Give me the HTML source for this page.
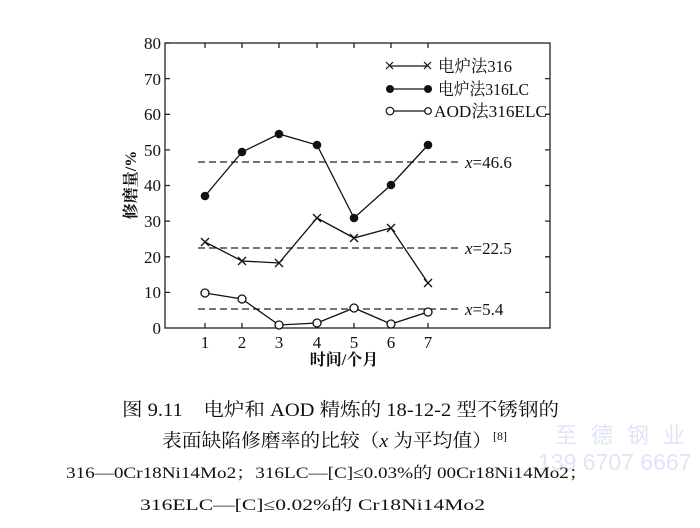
<!DOCTYPE html>
<html><head><meta charset="utf-8"><style>
body{margin:0;background:#fff;}
svg{display:block;}
.t{font-family:"Liberation Serif","Noto Serif CJK SC",serif;fill:#111;}
.c{font-family:"Liberation Serif","Noto Serif CJK SC",serif;fill:#111;}
</style></head><body>
<svg width="700" height="528" viewBox="0 0 700 528" xmlns="http://www.w3.org/2000/svg">
<rect width="700" height="528" fill="#fff"/>
<g stroke="#222" stroke-width="1.3" fill="none">
<rect x="165" y="43" width="385" height="285"/>
<path d="M165 43h5M165 78.6h5M165 114.3h5M165 149.9h5M165 185.5h5M165 221.1h5M165 256.8h5M165 292.4h5
M550 78.6h-5M550 114.3h-5M550 149.9h-5M550 185.5h-5M550 221.1h-5M550 256.8h-5M550 292.4h-5
M205 43v5M242 43v5M279 43v5M317 43v5M354 43v5M391 43v5M428 43v5
M205 328v-5M242 328v-5M279 328v-5M317 328v-5M354 328v-5M391 328v-5M428 328v-5"/>
</g>
<g stroke="#222" stroke-width="1.2" stroke-dasharray="7,4">
<line x1="198" y1="162" x2="458" y2="162"/>
<line x1="198" y1="248" x2="458" y2="248"/>
<line x1="198" y1="309" x2="458" y2="309"/>
</g>
<g class="t" font-size="17" font-style="italic">
<text x="465" y="168">x<tspan font-style="normal">=46.6</tspan></text>
<text x="465" y="254">x<tspan font-style="normal">=22.5</tspan></text>
<text x="465" y="315">x<tspan font-style="normal">=5.4</tspan></text>
</g>
<g class="t" font-size="17" text-anchor="end">
<text x="161" y="49">80</text><text x="161" y="85">70</text><text x="161" y="120">60</text>
<text x="161" y="156">50</text><text x="161" y="191">40</text><text x="161" y="227">30</text>
<text x="161" y="263">20</text><text x="161" y="298">10</text><text x="161" y="334">0</text>
</g>
<g class="t" font-size="17" text-anchor="middle">
<text x="205" y="348">1</text><text x="242" y="348">2</text><text x="279" y="348">3</text>
<text x="317" y="348">4</text><text x="354" y="348">5</text><text x="391" y="348">6</text><text x="428" y="348">7</text>
<text x="344" y="365" font-size="16" font-weight="bold">时间/个月</text>
<text transform="translate(136,185) rotate(-90)" font-size="16" font-weight="bold">修磨量/%</text>
</g>
<g stroke="#111" stroke-width="1.3" fill="none">
<polyline points="205,196 242,152 279,134 317,145 354,218 391,185 428,145"/>
<polyline points="205,242 242,261 279,263 317,218 354,238 391,228 428,283"/>
<polyline points="205,293 242,299 279,325 317,323 354,308 391,324 428,312"/>
</g>
<g fill="#111">
<circle cx="205" cy="196" r="4.3"/><circle cx="242" cy="152" r="4.3"/><circle cx="279" cy="134" r="4.3"/>
<circle cx="317" cy="145" r="4.3"/><circle cx="354" cy="218" r="4.3"/><circle cx="391" cy="185" r="4.3"/><circle cx="428" cy="145" r="4.3"/>
</g>
<g stroke="#111" stroke-width="1.3">
<path d="M201 238l8 8M209 238l-8 8 M238 257l8 8M246 257l-8 8 M275 259l8 8M283 259l-8 8 M313 214l8 8M321 214l-8 8 M350 234l8 8M358 234l-8 8 M387 224l8 8M395 224l-8 8 M424 279l8 8M432 279l-8 8"/>
</g>
<g stroke="#111" stroke-width="1.3" fill="#fff">
<circle cx="205" cy="293" r="4"/><circle cx="242" cy="299" r="4"/><circle cx="279" cy="325" r="4"/>
<circle cx="317" cy="323" r="4"/><circle cx="354" cy="308" r="4"/><circle cx="391" cy="324" r="4"/><circle cx="428" cy="312" r="4"/>
</g>
<g stroke="#111" stroke-width="1.2">
<line x1="390" y1="66" x2="428" y2="66"/><line x1="390" y1="89" x2="428" y2="89"/><line x1="390" y1="111" x2="428" y2="111"/>
<path d="M386 62l7 7M393 62l-7 7M424 62l7 7M431 62l-7 7"/>
</g>
<circle cx="390" cy="89" r="4" fill="#111"/><circle cx="428" cy="89" r="4" fill="#111"/>
<circle cx="390" cy="111" r="3.8" fill="#fff" stroke="#111" stroke-width="1.2"/><circle cx="428" cy="111" r="3.3" fill="#fff" stroke="#111" stroke-width="1.2"/>
<g class="t" font-size="17">
<text x="438" y="72" textLength="74" lengthAdjust="spacingAndGlyphs">电炉法316</text>
<text x="438" y="95" textLength="91" lengthAdjust="spacingAndGlyphs">电炉法316LC</text>
<text x="434" y="117" textLength="113" lengthAdjust="spacingAndGlyphs">AOD法316ELC</text>
</g>
<g font-family="Liberation Sans,'Noto Sans CJK SC',sans-serif" fill="#dfe5f6">
<text x="555" y="443" font-size="22" letter-spacing="14">至德钢业</text>
<text x="538" y="470" font-size="23">139 6707 6667</text>
</g>
<g class="c">
<text x="122" y="416" font-size="18.5" textLength="437" lengthAdjust="spacingAndGlyphs">图 9.11　电炉和 AOD 精炼的 18-12-2 型不锈钢的</text>
<text x="162" y="447" font-size="18.5" textLength="330" lengthAdjust="spacingAndGlyphs">表面缺陷修磨率的比较（<tspan font-style="italic">x</tspan> 为平均值）</text>
<text x="493" y="440" font-size="12" class="c">[8]</text>
<text x="66" y="478" font-size="16" textLength="522" lengthAdjust="spacingAndGlyphs">316—0Cr18Ni14Mo2；316LC—[C]≤0.03%的 00Cr18Ni14Mo2；</text>
<text x="140" y="510" font-size="16" textLength="345" lengthAdjust="spacingAndGlyphs">316ELC—[C]≤0.02%的 Cr18Ni14Mo2</text>
</g>
</svg>
</body></html>
